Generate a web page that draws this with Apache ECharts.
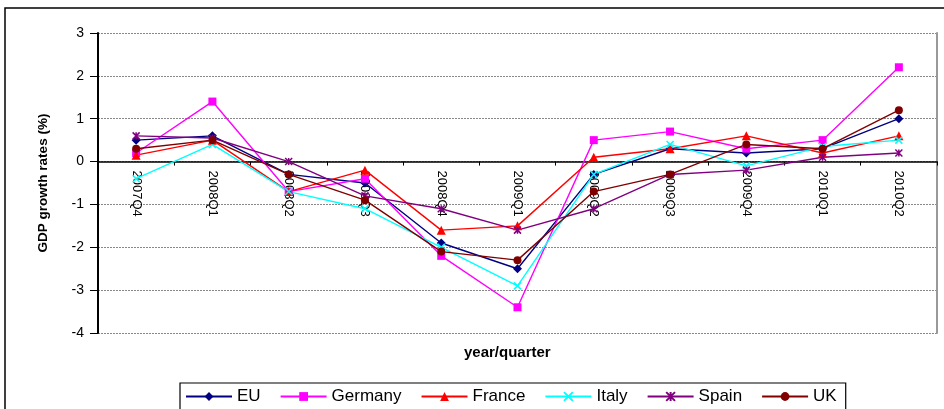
<!DOCTYPE html>
<html>
<head>
<meta charset="utf-8">
<script src="https://cdn.jsdelivr.net/npm/echarts@6/dist/echarts.min.js"></script>
<style>html,body{margin:0;padding:0;background:#fff;}#c{width:944px;height:409px;}</style>
</head>
<body>
<div id="c"></div>
<script>
var categories = ['2007Q4','2008Q1','2008Q2','2008Q3','2008Q4','2009Q1','2009Q2','2009Q3','2009Q4','2010Q1','2010Q2'];
var eu      = [0.5, 0.6, -0.3, -0.5, -1.9, -2.5, -0.3, 0.3, 0.2, 0.3, 1.0];
var germany = [0.2, 1.4, -0.7, -0.4, -2.2, -3.4, 0.5, 0.7, 0.3, 0.5, 2.2];
var france  = [0.15, 0.5, -0.7, -0.2, -1.6, -1.5, 0.1, 0.3, 0.6, 0.2, 0.6];
var italy   = [-0.4, 0.4, -0.7, -1.1, -2.0, -2.9, -0.3, 0.4, -0.1, 0.35, 0.5];
var spain   = [0.6, 0.55, 0.0, -0.8, -1.1, -1.6, -1.1, -0.3, -0.2, 0.1, 0.2];
var uk      = [0.3, 0.5, -0.3, -0.9, -2.1, -2.3, -0.7, -0.3, 0.4, 0.3, 1.2];
var yTicks  = [-4, -3, -2, -1, 0, 1, 2, 3];

var FONT = '"Liberation Sans", Arial, sans-serif';
var GRID_TOP = 33, GRID_BOTTOM = 76, H = 409;
var plotH = H - GRID_TOP - GRID_BOTTOM;
var yMin = yTicks[0], yMax = yTicks[yTicks.length - 1];
// shift the category axis up so it sits on the zero line
var zeroOffset = -plotH * (0 - yMin) / (yMax - yMin);

function mk(name, data, color, symbol, size, stroke) {
  var s = {
    name: name, type: 'line', data: data, symbol: symbol, symbolSize: size,
    showAllSymbol: true,
    lineStyle: {color: color, width: 1.4},
    itemStyle: {color: color},
    emphasis: {disabled: true}
  };
  if (stroke) {
    s.itemStyle = {color: color, borderColor: color, borderWidth: 1.5};
  }
  return s;
}
var chart = echarts.init(document.getElementById('c'), null, {renderer: 'canvas'});
chart.setOption({
  animation: false,
  backgroundColor: '#fff',
  textStyle: {fontFamily: FONT},
  graphic: [
    {type: 'rect', shape: {x: 5, y: 8, width: 1000, height: 500}, style: {fill: 'none', stroke: '#000', lineWidth: 1.5}, silent: true},
    {type: 'text', left: 464, top: 345, style: {text: 'year/quarter', font: 'bold 15px ' + FONT, fill: '#000'}}
  ],
  grid: {left: 98, right: 7, top: GRID_TOP, bottom: GRID_BOTTOM},
  legend: {
    left: 180, top: 383, padding: [5, 9, 10, 5],
    borderColor: '#000', borderWidth: 1.2,
    itemWidth: 46, itemHeight: 11, itemGap: 19,
    textStyle: {fontSize: 17, color: '#000', fontFamily: FONT},
    data: ['EU','Germany','France','Italy','Spain','UK']
  },
  xAxis: {
    type: 'category', data: categories, boundaryGap: true,
    position: 'bottom', offset: zeroOffset,
    axisLine: {onZero: false, lineStyle: {color: '#000', width: 1.5}},
    axisTick: {show: true, length: 4, lineStyle: {color: '#000'}},
    axisLabel: {rotate: -90, margin: 9, fontSize: 13, color: '#000', fontFamily: FONT},
    splitLine: {show: false}
  },
  yAxis: [{
    type: 'value', min: yMin, max: yMax, interval: 1,
    name: 'GDP growth rates (%)', nameLocation: 'middle', nameGap: 48,
    nameTextStyle: {fontWeight: 'bold', fontSize: 13.5, color: '#000', fontFamily: FONT},
    axisLine: {show: true, lineStyle: {color: '#000', width: 2}},
    axisTick: {show: true, length: 8, lineStyle: {color: '#000'}},
    axisLabel: {margin: 14, fontSize: 14, color: '#000', fontFamily: FONT,
      formatter: function (v) { return yTicks.indexOf(v) >= 0 ? String(v) : ''; }},
    splitLine: {show: true, lineStyle: {color: '#888', type: [2, 1], width: 1}}
  }, {
    type: 'value', min: yMin, max: yMax, interval: 1, position: 'right',
    axisLine: {show: true, lineStyle: {color: '#999', width: 2}},
    axisTick: {show: false}, axisLabel: {show: false}, splitLine: {show: false}
  }],
  series: [
    mk('EU', eu, '#000080', 'diamond', 9),
    mk('Germany', germany, '#FF00FF', 'rect', 8),
    mk('France', france, '#FF0000', 'triangle', 9),
    mk('Italy', italy, '#00FFFF', 'path://M0,0L10,10M10,0L0,10', 7, true),
    mk('Spain', spain, '#800080', 'path://M0,0L10,10M10,0L0,10M5,0L5,10', 7, true),
    mk('UK', uk, '#800000', 'circle', 8)
  ]
});
</script>
</body>
</html>
